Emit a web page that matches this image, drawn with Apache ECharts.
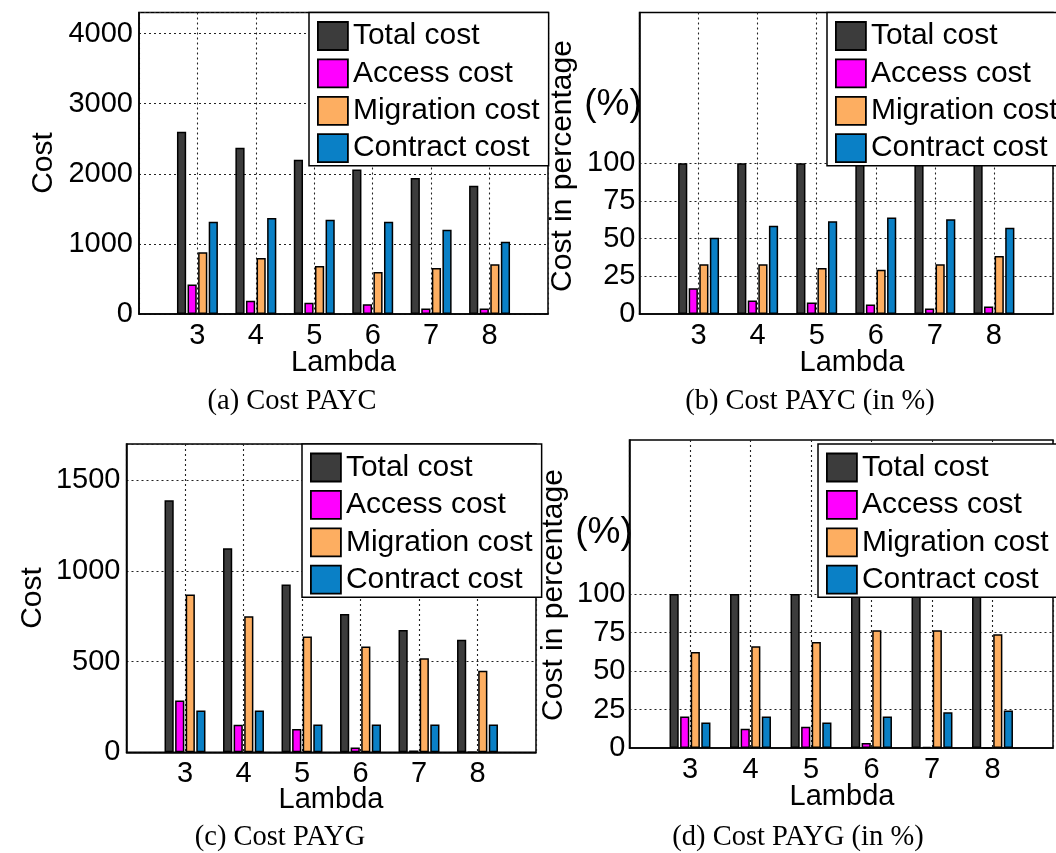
<!DOCTYPE html>
<html>
<head>
<meta charset="utf-8">
<script src="https://cdn.jsdelivr.net/npm/echarts@6/dist/echarts.min.js"></script>
<style>
  html, body { margin: 0; padding: 0; background: #fff; }
  #chart { width: 1056px; height: 853px; }
</style>
</head>
<body>
<div id="chart"></div>
<script>
// lambda values on the x axis
var lambdas = ['3', '4', '5', '6', '7', '8'];
var seriesNames = ['Total cost', 'Access cost', 'Migration cost', 'Contract cost'];
var seriesColors = ['#3c3c3c', '#ff00ff', '#fdae61', '#0a80c6'];

// (a) Cost PAYC
var paycTotal = [2600, 2370, 2200, 2060, 1940, 1830];
var paycAccess = [420, 190, 160, 140, 80, 80];
var paycMigration = [880, 800, 685, 600, 655, 710];
var paycContract = [1315, 1370, 1345, 1315, 1200, 1030];

// (b) Cost PAYC (in %)
var paycPctTotal = [100, 100, 100, 100, 100, 100];
var paycPctAccess = [17, 9, 7.6, 6.3, 3.7, 5];
var paycPctMigration = [33, 33, 30.5, 29.3, 33, 38.5];
var paycPctContract = [50.5, 58.5, 61.5, 64, 62.8, 57.2];

// (c) Cost PAYG
var paygTotal = [1390, 1125, 925, 762, 675, 620];
var paygAccess = [285, 152, 128, 27, 10, 0];
var paygMigration = [870, 750, 638, 583, 518, 450];
var paygContract = [230, 230, 153, 153, 153, 153];

// (d) Cost PAYG (in %)
var paygPctTotal = [100, 100, 100, 100, 100, 100];
var paygPctAccess = [20.5, 12.5, 13.8, 3.2, 0.8, 0];
var paygPctMigration = [62.3, 66, 68.8, 76.5, 76.5, 73.9];
var paygPctContract = [16.5, 20.5, 16.5, 20.5, 23.2, 24.4];

// horizontal grid lines of the percentage panels
var pctGridLines = [25, 50, 75, 100];

var SANS = '"Liberation Sans", Arial, sans-serif';
var SERIF = '"Liberation Serif", "Times New Roman", serif';

var panels = [
  { grid: { left: 139, top: 12.5, width: 409, height: 301.5 }, max: 4300, interval: 1000, pct: false,
    data: [paycTotal, paycAccess, paycMigration, paycContract], legend: { left: 309, top: 12.5 },
    yName: 'Cost', yNameXY: [44, 163], lambdaXY: [343.5, 363], caption: '(a) Cost PAYC', captionXY: [292, 402] },
  { grid: { left: 639.5, top: 12.5, width: 425, height: 301.5 }, max: 200, interval: 25, pct: true,
    data: [paycPctTotal, paycPctAccess, paycPctMigration, paycPctContract], legend: { left: 827, top: 12.5 },
    yName: 'Cost in percentage', yNameXY: [563, 166], pctXY: [613, 105], lambdaXY: [852, 363],
    caption: '(b) Cost PAYC (in %)', captionXY: [810, 402] },
  { grid: { left: 126.5, top: 444, width: 409.5, height: 308.3 }, max: 1700, interval: 500, pct: false,
    data: [paygTotal, paygAccess, paygMigration, paygContract], legend: { left: 302, top: 444 },
    yName: 'Cost', yNameXY: [33, 598], lambdaXY: [331, 800], caption: '(c) Cost PAYG', captionXY: [280, 838] },
  { grid: { left: 629.5, top: 440, width: 425, height: 308 }, max: 200, interval: 25, pct: true,
    data: [paygPctTotal, paygPctAccess, paygPctMigration, paygPctContract], legend: { left: 818, top: 444 },
    yName: 'Cost in percentage', yNameXY: [553.5, 595], pctXY: [604, 533], lambdaXY: [842, 797],
    caption: '(d) Cost PAYG (in %)', captionXY: [798, 838] }
];

// x axis runs from 2 to 9, only 3..8 are labelled
var xCats = [String(+lambdas[0] - 1)].concat(lambdas, [String(+lambdas[lambdas.length - 1] + 1)]);

function pad(arr) {
  return ['-'].concat(arr, ['-']);
}

var dotted = { color: '#222', width: 1.1, type: [2, 3] };

var grids = [], xAxes = [], yAxes = [], series = [], legends = [], graphics = [];

panels.forEach(function (p, i) {
  grids.push({
    left: p.grid.left, top: p.grid.top, width: p.grid.width, height: p.grid.height,
    show: true, borderColor: '#000', borderWidth: 1.5, backgroundColor: 'transparent'
  });
  xAxes.push({
    type: 'category', gridIndex: i, data: xCats, boundaryGap: false,
    axisLine: { show: true, lineStyle: { color: '#000', width: 1.5 } },
    axisTick: { show: false },
    axisLabel: {
      interval: 0, margin: 7, fontSize: 29, fontFamily: SANS, color: '#000',
      formatter: function (v, idx) { return (idx === 0 || idx === xCats.length - 1) ? '' : v; }
    },
    splitLine: { show: true, lineStyle: dotted }
  });
  yAxes.push({
    type: 'value', gridIndex: i, min: 0, max: p.max, interval: p.interval,
    axisLine: { show: true, lineStyle: { color: '#000', width: 1.5 } },
    axisTick: { show: false },
    axisLabel: {
      margin: p.pct ? 4 : 6, fontSize: 29, fontFamily: SANS, color: '#000', showMaxLabel: false,
      formatter: function (v) { return (p.pct && v > 100) ? '' : String(v); }
    },
    splitLine: { show: !p.pct, lineStyle: dotted }
  });
  seriesNames.forEach(function (name, k) {
    var s = {
      name: name, type: 'bar', xAxisIndex: i, yAxisIndex: i,
      data: pad(p.data[k]), barWidth: 9.2, barGap: '15%',
      itemStyle: { color: seriesColors[k], borderColor: '#000', borderWidth: 1.5 },
      silent: true
    };
    if (p.pct && k === 0) {
      s.markLine = {
        z: 1, silent: true, symbol: 'none', label: { show: false },
        lineStyle: dotted,
        data: pctGridLines.map(function (v) { return { yAxis: v }; })
      };
    }
    series.push(s);
  });
  legends.push({
    data: seriesNames, orient: 'vertical', left: p.legend.left, top: p.legend.top,
    itemWidth: 30, itemHeight: 28, itemGap: 7.4, padding: [8.5, 9, 2.5, 8],
    backgroundColor: '#fff', borderColor: '#000', borderWidth: 1.5,
    icon: 'rect', selectedMode: false,
    itemStyle: { borderColor: '#000', borderWidth: 1.8 },
    textStyle: { fontSize: 30, fontFamily: SANS, color: '#000' }
  });
  graphics.push({
    type: 'text', x: p.yNameXY[0], y: p.yNameXY[1], rotation: Math.PI / 2,
    style: { text: p.yName, fontSize: 30, fontFamily: SANS, fill: '#000', align: 'center', verticalAlign: 'middle' }
  });
  if (p.pct) {
    graphics.push({
      type: 'text', x: p.pctXY[0], y: p.pctXY[1],
      style: { text: '(%)', fontSize: 37, fontFamily: SANS, fill: '#000', align: 'center', verticalAlign: 'middle' }
    });
  }
  graphics.push({
    type: 'text', x: p.lambdaXY[0], y: p.lambdaXY[1],
    style: { text: 'Lambda', fontSize: 29, fontFamily: SANS, fill: '#000', align: 'center', verticalAlign: 'middle' }
  });
  graphics.push({
    type: 'text', x: p.captionXY[0], y: p.captionXY[1],
    style: { text: p.caption, fontSize: 28.5, fontFamily: SERIF, fill: '#000', align: 'center', verticalAlign: 'middle' }
  });
});

var chart = echarts.init(document.getElementById('chart'), null, { renderer: 'canvas' });
chart.setOption({
  animation: false,
  backgroundColor: '#fff',
  grid: grids,
  xAxis: xAxes,
  yAxis: yAxes,
  legend: legends,
  series: series,
  graphic: graphics
});
</script>
</body>
</html>
